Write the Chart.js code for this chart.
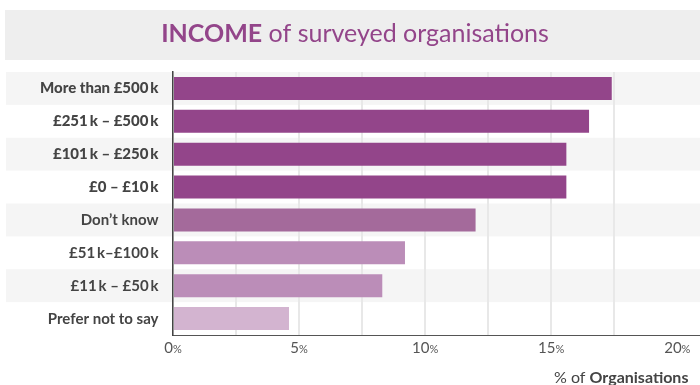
<!DOCTYPE html>
<html>
<head>
<meta charset="utf-8">
<script src="https://cdn.jsdelivr.net/npm/chart.js@4"></script>
<style>
  html, body { margin: 0; padding: 0; background: #ffffff; }
  #wrap { width: 700px; height: 385px; position: relative; }
</style>
</head>
<body>
<div id="wrap"><canvas id="c"></canvas></div>
<script>
// Income bands and share of organisations (%)
const categories = [
  'More than £500\u2009k',
  '£251\u2009k – £500\u2009k',
  '£101\u2009k – £250\u2009k',
  '£0 – £10\u2009k',
  'Don’t know',
  '£51\u2009k–£100\u2009k',
  '£11\u2009k – £50\u2009k',
  'Prefer not to say'
];
const shares = [17.4, 16.5, 15.6, 15.6, 12.0, 9.2, 8.3, 4.6];
const tickLabels = [0, 5, 10, 15, 20];

const FONT = 'Lato, "Open Sans", sans-serif';
const PURPLE = '#93458a';

// Background stripes, title banner and custom text
const decor = {
  id: 'decor',
  beforeDraw(chart) {
    const { ctx, scales: { y } } = chart;
    ctx.save();
    // title banner
    ctx.fillStyle = '#eeeeee';
    ctx.fillRect(5, 10, 695, 50);
    // alternating row stripes
    const half = Math.abs(y.getPixelForValue(1) - y.getPixelForValue(0)) / 2;
    ctx.fillStyle = '#f5f5f5';
    categories.forEach((c, i) => {
      if (i % 2 === 0) {
        const yc = y.getPixelForValue(i);
        ctx.fillRect(6, yc - half, 700 - 6, half * 2);
      }
    });
    ctx.restore();
  },
  afterDraw(chart) {
    const { ctx, scales: { x, y } } = chart;
    ctx.save();
    ctx.textBaseline = 'alphabetic';

    // title: bold lead word + regular remainder, centred
    const boldPart = 'INCOME';
    const restPart = ' of surveyed organisations';
    ctx.fillStyle = PURPLE;
    ctx.font = `bold 25px ${FONT}`;
    const wb = ctx.measureText(boldPart).width;
    ctx.font = `25px ${FONT}`;
    const wr = ctx.measureText(restPart).width;
    const tx = 355 - (wb + wr) / 2;
    ctx.textAlign = 'left';
    ctx.font = `bold 25px ${FONT}`;
    ctx.fillText(boldPart, tx, 42);
    ctx.font = `25px ${FONT}`;
    ctx.fillText(restPart, tx + wb, 42);

    // category labels
    ctx.textAlign = 'right';
    ctx.fillStyle = '#444444';
    categories.forEach((c, i) => {
      ctx.font = `${i < 4 ? 900 : 'bold'} 15px ${FONT}`;
      ctx.fillText(c, 158.5, y.getPixelForValue(i) + 5);
    });

    // x tick labels with a smaller percent sign
    ctx.textAlign = 'left';
    ctx.fillStyle = '#555555';
    tickLabels.forEach(v => {
      const px = x.getPixelForValue(v);
      const num = String(v);
      ctx.font = `15px ${FONT}`;
      const wn = ctx.measureText(num).width;
      ctx.font = `11px ${FONT}`;
      const wp = ctx.measureText('%').width;
      const sx = px - (wn + wp) / 2;
      ctx.font = `15px ${FONT}`;
      ctx.fillText(num, sx, 353);
      ctx.font = `11px ${FONT}`;
      ctx.fillText('%', sx + wn, 353);
    });

    // axis title
    ctx.fillStyle = '#444444';
    ctx.font = `16px ${FONT}`;
    const pre = '% of ';
    ctx.fillText(pre, 554, 383);
    const wpre = ctx.measureText(pre).width;
    ctx.font = `bold 16px ${FONT}`;
    ctx.fillText('Organisations', 554 + wpre, 383);

    ctx.restore();
  }
};

new Chart(document.getElementById('c'), {
  type: 'bar',
  data: {
    labels: categories,
    datasets: [{
      data: shares,
      backgroundColor: ['#93458a', '#93458a', '#93458a', '#93458a', '#a46a9b', '#bb8db8', '#bb8db8', '#d3b4d0'],
      borderWidth: 0,
      barPercentage: 0.7,
      categoryPercentage: 1
    }]
  },
  options: {
    indexAxis: 'y',
    responsive: true,
    maintainAspectRatio: false,
    animation: false,
    layout: { padding: { left: 173, top: 72, right: 0, bottom: 50 } },
    plugins: { legend: { display: false }, tooltip: { enabled: false }, title: { display: false } },
    scales: {
      x: {
        min: 0,
        max: 20.9,
        ticks: { display: false, stepSize: 2.5 },
        afterBuildTicks: axis => {
          axis.ticks = axis.ticks.filter(t => Math.abs(t.value / 2.5 - Math.round(t.value / 2.5)) < 1e-6);
        },
        grid: { color: '#e8e8e8', lineWidth: 2, drawTicks: false, tickLength: 0 },
        border: { display: true, color: '#555555', width: 1 }
      },
      y: {
        ticks: { display: false },
        grid: { display: false, drawTicks: false, tickLength: 0 },
        border: { display: true, color: '#444444', width: 1.5 }
      }
    }
  },
  plugins: [decor]
});
</script>
</body>
</html>
